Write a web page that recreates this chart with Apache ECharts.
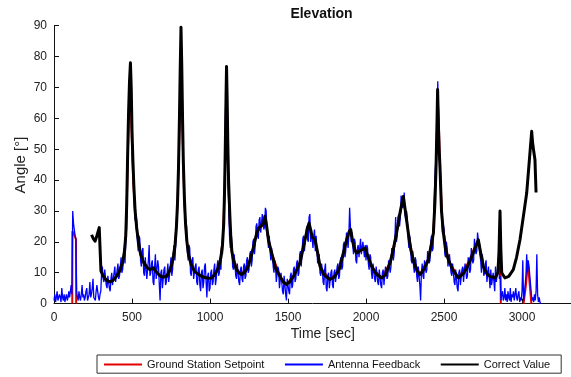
<!DOCTYPE html>
<html>
<head>
<meta charset="utf-8">
<style>
  html, body { margin: 0; padding: 0; background: #fff; }
  #chart { width: 571px; height: 377px; }
</style>
<script src="https://cdn.jsdelivr.net/npm/echarts@6/dist/echarts.min.js"></script>
</head>
<body>
<div id="chart"></div>
<script>
// Elevation angle over one tracking session

const xTicks = [0, 500, 1000, 1500, 2000, 2500, 3000];
const yTicks = [0, 10, 20, 30, 40, 50, 60, 70, 80, 90];

// Ground station setpoint [time s, angle deg]; null marks a gap in the command log
const setpointT = [117,118,129,141,142,143, 304,305,330,360,400,430,450,462,470,477,482,487,491,496,502,510,520,535,555,580,615,637,660,700,735,760,778,790,800,806,812,817,822,828,836,848,865,900,950,1000,1040,1065,1082,1092,1099,1104,1108,1112,1118,1126,1140,1180,1203,1260,1300,1340,1352,1370,1395,1450,1491,1540,1580,1610,1635,1650,1673,1705,1769,1820,1855,1880,1900,1920,1940,1994,2036,2100,2154,2196,2237,2255,2271,2303,2346,2400,2432,2446,2455,2460,2466,2474,2490,2528,2592,2656,2690,2720,2752,2795,2827,2845,2858,2863,2864,2865, 3010,3025,3038,3048,3060];
const setpointV = [0,23.4,22.5,20.7,0,null, null,10,8,7,8.8,12,16,24,40,56,66,72,70,58,48,38,29,22,16,12.5,11,11.5,9.8,8.6,9.8,13.5,20,30,46,60,80,78,62,46,32,22,15,10.5,8.8,8.2,10,13.5,21,34,50,70,68,54,38,26,16.5,10.2,9.4,14.5,23,25.5,27.5,22,16.4,8.6,6.2,9.2,14,21,25.5,22,20.5,12,7.8,10.3,16.4,22,23.5,19,16.4,18,12,8.3,13.2,23,34,29,23,14.2,9.4,14.5,23,40,58,66,60,44,25.5,14.2,8.4,13.3,17.5,20.5,12.2,8.9,8.4,10,12,10,0,null, 0,6,13.2,7,0];

// Antenna feedback, sampled every 5 s from t = 0 (one row per 100 s)
const feedbackStep = 5;
const feedbackV = [
  1,3,0.5,2,4,1,1.5,3,2,0.5,5,2,1,3,0.5,2,3,1,2,4,
  2,4,6,3,30,26,24,22,21,4,2,1,4,2,1,3,6,2,3,1,
  2,4,5,1,1,3,7,2,3,5,8,2,2,1,4,6,6,2,1,3,
  4,10,12,8,7,11,11,6,5,9,9,5,4,8,10,6,6,10,12,7,
  7,11,13,8,9,12,15,10,11,14,18,13,20,24,44,55,64,70,74,72,
  54,50,42,33,27,29,27,20,17,22,21,14,12,17,18,10,9,15,15,8,
  8,14,19,9,10,13,14,7,6,12,16,8,8,14,12,6,1,10,11,5,
  5,11,12,6,7,10,13,7,9,12,15,9,11,16,19,14,19,25,32,36,
  46,58,80,86,71,57,45,34,28,27,25,17,14,19,18,10,9,14,15,8,
  8,12,13,7,6,11,12,6,4,10,11,5,7,12,13,7,2,9,10,4,
  5,10,11,6,7,11,13,6,8,12,14,9,10,15,11,19,16,22,33,44,
  64,70,55,41,33,22,18,24,19,12,11,16,16,9,8,13,13,7,6,11,
  12,8,7,12,13,8,9,14,15,10,11,16,17,12,14,20,21,16,19,25,
  26,22,21,27,28,23,23,29,29,24,25,31,30,24,21,18,22,17,14,18,
  18,12,10,14,12,7,7,12,11,5,5,10,10,4,3,9,9,3,1,8,
  8,4,3,9,10,5,6,11,12,7,8,13,14,9,10,16,17,12,17,21,
  22,17,17,23,25,21,20,28,29,20,24,21,18,22,24,17,22,18,13,13,
  16,10,9,13,11,7,6,11,13,5,4,9,10,5,5,10,11,6,5,10,
  11,7,7,12,13,8,9,14,15,11,12,19,20,15,17,23,23,18,22,31,
  25,20,23,19,16,21,20,14,13,18,19,15,15,21,16,16,20,20,15,19,
  14,19,18,13,11,16,15,10,8,13,13,8,7,12,12,7,6,11,11,6,
  5,10,11,6,6,12,12,8,9,14,14,10,12,18,18,14,16,21,28,20,
  22,28,29,25,28,35,35,31,32,36,29,27,30,27,21,18,22,19,14,13,
  17,12,10,15,14,9,7,12,12,6,1,10,13,9,8,14,14,10,11,17,
  17,13,14,20,22,17,18,30,38,44,49,60,72,56,47,43,36,27,23,26,
  24,16,15,20,18,12,12,16,16,10,9,13,13,7,6,11,11,5,4,10,
  11,6,6,11,12,7,7,13,13,8,9,15,15,10,11,18,18,13,14,21,
  21,16,17,23,23,18,18,14,10,16,14,9,10,13,14,7,7,12,12,5,
  11,6,6,10,10,4,12,7,9,12,16,8,9,1,3,4,1,2,5,1,
  3,0.5,4,2,1,5,0.5,3,2,4,1,0.5,5,2,1,3,4,0.5,2,1,
  4,14,1,3,6,9,16,10,14,12,9,6,3,1,2,0.5,3,1,4,16,
  3,0.5,2,0.5,0
];

// Correct value [time s, angle deg]
const correctT = [241,252,263,275,290,298,301,315,335,359,380,400,420,440,452,460,466,472,478,484,490,495,500,506,512,520,530,540,555,573,595,615,637,655,680,701,722,740,754,766,776,785,792,798,804,809,814,819,824,829,836,843,852,862,880,900,930,957,980,1005,1030,1055,1070,1080,1088,1094,1099,1103,1106,1110,1114,1119,1126,1133,1140,1152,1168,1185,1203,1220,1240,1260,1280,1298,1312,1328,1342,1352,1362,1375,1395,1420,1449,1470,1491,1510,1540,1577,1609,1625,1635,1645,1655,1673,1688,1705,1730,1769,1800,1830,1855,1875,1892,1902,1915,1928,1940,1965,1994,2010,2036,2065,2100,2125,2154,2175,2196,2220,2239,2255,2271,2287,2303,2325,2346,2370,2400,2420,2432,2442,2449,2454,2459,2464,2469,2474,2484,2496,2510,2528,2555,2592,2625,2640,2660,2680,2700,2720,2735,2752,2775,2795,2827,2845,2852,2859,2864,2870,2891,2915,2944,2965,2987,3008,3030,3048,3062,3068,3076,3083,3090];
const correctV = [22.3,21,20.2,22,24.6,24.8,10.5,9,7.6,7,7.6,8.8,10.5,13.5,17,22,32,48,62,72,78,70,56,46,38,30,24.5,20.5,16,13.5,11.8,11,11.6,10.3,8.9,8.6,8.8,10.5,12.5,15.5,19,25,33,44,60,76,89.5,77,60,46,34,26,20,16,12.5,10.5,9.3,8.6,8.3,8.2,9.3,11.8,15,19,26,38,54,68,76.8,66,52,40,30,22,17,13.5,11.2,10,9.4,10,11.5,14.5,18.5,22.5,24.5,25.2,25.8,28.3,25.5,20.5,16.4,11.5,8.8,7,6.2,7,9.2,13.2,20.7,24.5,26.1,24,21.5,20.7,17,12.1,9.3,7.8,8.7,11.4,16.4,20.5,23.3,24,20,17.3,16.4,17.2,18,15.5,12.1,9.6,8.3,9.3,13.2,17.5,22.9,30,34.7,29,22.9,17.5,14.2,10.8,9.4,11,14.2,19.5,22.9,33,44.5,56,69.3,58,50,44.5,30,22.9,17.5,14.2,11,8.3,9.8,11,13,15.5,18,20.7,16.5,12,9.6,8.8,8.3,10,16,30,18,10,8.3,8.8,11,15,20.7,28,35.8,47,55.8,52,49,46.6,36];

const pairs = (ts, vs) => ts.map((t, i) => [t, vs[i] === null ? '-' : vs[i]]);
const setpointData = pairs(setpointT, setpointV);
const feedbackData = feedbackV.map((v, i) => [i * feedbackStep, v]);
const correctData = pairs(correctT, correctV);

const FONT = '"Liberation Sans", Arial, sans-serif';

const chart = echarts.init(document.getElementById('chart'), null, { renderer: 'canvas' });
chart.setOption({
  animation: false,
  backgroundColor: '#fff',
  grid: { left: 54, right: 0, top: 25.7, bottom: 73.4, containLabel: false },
  xAxis: {
    type: 'value', min: 0, max: 3314, interval: 500,
    axisLine: { show: true, lineStyle: { color: '#111', width: 1 } },
    axisTick: { show: true, inside: true, length: 5, lineStyle: { color: '#111' } },
    axisLabel: {
      color: '#222', fontSize: 12, fontFamily: FONT, margin: 8, showMaxLabel: false,
      formatter: v => (xTicks.indexOf(v) >= 0 ? String(v) : '')
    },
    splitLine: { show: false }
  },
  yAxis: {
    type: 'value', min: 0, max: 90, interval: 10,
    axisLine: { show: true, lineStyle: { color: '#111', width: 1 } },
    axisTick: { show: true, inside: true, length: 5, lineStyle: { color: '#111' } },
    axisLabel: {
      color: '#222', fontSize: 12, fontFamily: FONT, margin: 7,
      formatter: v => (yTicks.indexOf(v) >= 0 ? String(v) : '')
    },
    splitLine: { show: false }
  },
  legend: {
    left: 97, top: 355,
    padding: [4, 11, 3, 6],
    itemWidth: 38, itemHeight: 14, itemGap: 19.5,
    borderColor: '#333', borderWidth: 1,
    itemStyle: { opacity: 0 },
    textStyle: { fontSize: 11, color: '#111', fontFamily: FONT },
    data: ['Ground Station Setpoint', 'Antenna Feedback', 'Correct Value']
  },
  graphic: [
    { type: 'text', x: 321.5, y: 14.5, style: { text: 'Elevation', font: 'bold 14px ' + FONT, fill: '#111', textAlign: 'center', textVerticalAlign: 'middle' } },
    { type: 'text', x: 322.8, y: 334.5, style: { text: 'Time [sec]', font: '14px ' + FONT, fill: '#222', textAlign: 'center', textVerticalAlign: 'middle' } },
    { type: 'text', x: 21, y: 165, rotation: Math.PI / 2, style: { text: 'Angle [°]', font: '15px ' + FONT, fill: '#222', textAlign: 'center', textVerticalAlign: 'middle' } }
  ],
  series: [
    {
      name: 'Ground Station Setpoint', type: 'line', data: setpointData,
      symbol: 'none', showSymbol: false, connectNulls: false,
      lineStyle: { color: '#e60000', width: 2 }, itemStyle: { color: '#e60000' }
    },
    {
      name: 'Antenna Feedback', type: 'line', data: feedbackData,
      symbol: 'none', showSymbol: false,
      lineStyle: { color: '#0000ff', width: 1.3 }, itemStyle: { color: '#0000ff' }
    },
    {
      name: 'Correct Value', type: 'line', data: correctData,
      symbol: 'none', showSymbol: false,
      lineStyle: { color: '#000', width: 3, join: 'round' }, itemStyle: { color: '#000' }
    }
  ]
});
</script>
</body>
</html>
